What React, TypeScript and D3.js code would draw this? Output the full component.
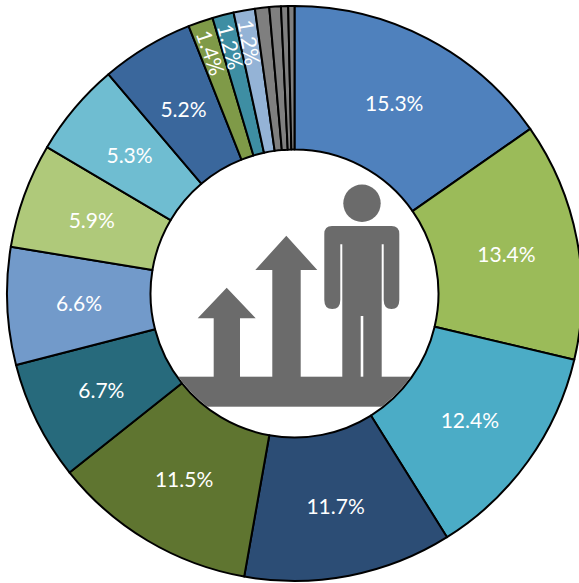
import React from "react";
import * as d3 from "d3";

const shares = [15.3, 13.4, 12.4, 11.7, 11.5, 6.7, 6.6, 5.9, 5.3, 5.2, 1.4, 1.2, 1.2, 0.8, 0.65, 0.4, 0.35];
const labels = ["15.3%", "13.4%", "12.4%", "11.7%", "11.5%", "6.7%", "6.6%", "5.9%", "5.3%", "5.2%", "1.4%", "1.2%", "1.2%", "", "", "", ""];
const colors = ["#4f81bd", "#9bbb59", "#4bacc6", "#2c4d75", "#5f7530", "#276a7c", "#729aca", "#afc97a", "#6fbdd1", "#3a679c", "#7f9a48", "#3e8ea3", "#94b3d6", "#7f7f7f", "#7f7f7f", "#7f7f7f", "#7f7f7f"];

const W = 579;
const H = 583;
const CX = 294.5;
const CY = 293.5;
const OUTER = 287.5;
const INNER = 144;
const ICON = "#6b6b6b";

const arrowPath = (tip: number, headY: number, hl: number, hr: number, sl: number, sr: number, bottom: number) =>
  `M${(hl + hr) / 2},${tip}L${hr},${headY}L${sr},${headY}L${sr},${bottom}L${sl},${bottom}L${sl},${headY}L${hl},${headY}Z`;

const personPath = [
  "M332,226H391.5Q399.3,226 399.3,234V300Q399.3,309 391.5,309Q383.7,309 383.7,300V244.3H381.7V377",
  "H363.3V316H360.7V377H342.3V244.3H340.3V300Q340.3,309 332.3,309Q324.3,309 324.3,300V234Q324.3,226 332,226Z",
].join("");

export default function App() {
  const pie = d3.pie<number>().sort(null).value((d) => d);
  const arcs = pie(shares);
  const arc = d3.arc<d3.PieArcDatum<number>>().innerRadius(INNER).outerRadius(OUTER);
  const midR = (INNER + OUTER) / 2;
  return (
    <svg
      width={W}
      height={H}
      viewBox={`0 0 ${W} ${H}`}
      style={{ position: "fixed", left: 0, top: 0, display: "block", background: "#fff" }}
    >
      <defs>
        <clipPath id="hole">
          <circle cx={CX} cy={CY} r={INNER - 1} />
        </clipPath>
      </defs>
      <g transform={`translate(${CX},${CY})`}>
        {arcs.map((a, i) => (
          <path key={i} d={arc(a) ?? ""} fill={colors[i]} stroke="#000" strokeWidth={2} strokeLinejoin="round" />
        ))}
        {arcs.map((a, i) => {
          if (!labels[i]) return null;
          const mid = (a.startAngle + a.endAngle) / 2;
          const narrow = shares[i] < 2;
          const r = narrow ? 255 : midR;
          const x = r * Math.sin(mid);
          const y = -r * Math.cos(mid);
          const rot = narrow ? (mid * 180) / Math.PI - 270 : 0;
          return (
            <text
              key={i}
              transform={`translate(${x},${y}) rotate(${rot})`}
              textAnchor="middle"
              dominantBaseline="central"
              fill="#fff"
              fontFamily="Lato, 'Open Sans', sans-serif"
              fontSize={21}
            >
              {labels[i]}
            </text>
          );
        })}
      </g>
      <g fill={ICON}>
        <rect x={150} y={376.7} width={290} height={30} clipPath="url(#hole)" />
        <path d={arrowPath(287.7, 318.3, 197.7, 255.7, 213.7, 240, 377)} />
        <path d={arrowPath(235.7, 270, 255.3, 317.3, 272.3, 300.7, 377)} />
        <circle cx={362} cy={203.3} r={18.7} />
        <path d={personPath} />
      </g>
    </svg>
  );
}
